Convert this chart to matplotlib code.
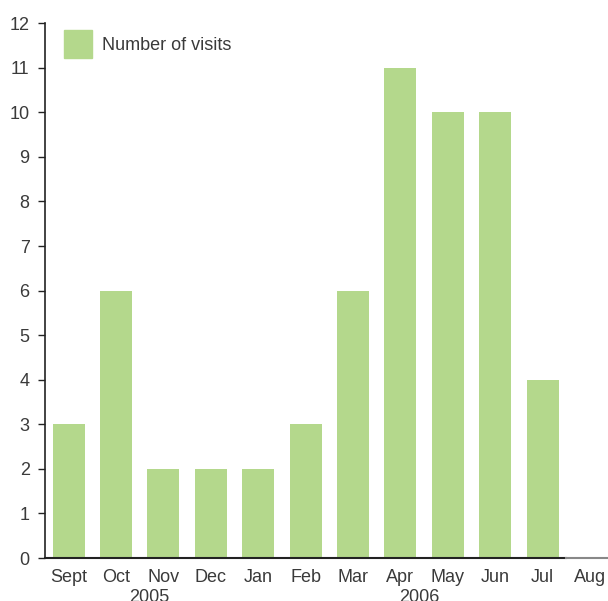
import matplotlib
matplotlib.use("Agg")
import matplotlib.pyplot as plt
from matplotlib.patches import Patch

months = ["Sept", "Oct", "Nov", "Dec", "Jan", "Feb", "Mar", "Apr", "May", "Jun", "Jul", "Aug"]
visits = [3, 6, 2, 2, 2, 3, 6, 11, 10, 10, 4, 0]
years = ["2005", "2006"]
year_pos = [1.7, 7.4]
yticks = list(range(0, 13))

plt.rcParams['font.family'] = ['Liberation Sans', 'DejaVu Sans']
bar_color = "#b4d88c"
text_color = "#3a3a3a"
fs = 13

fig = plt.figure(figsize=(6.08, 6.01), dpi=100)
ax = fig.add_axes([0.074, 0.0715, 0.926, 0.890])

x = list(range(len(months)))
ax.bar(x, visits, width=0.675, color=bar_color, zorder=2)

ax.set_xlim(-0.5, 11.38)
ax.set_ylim(0, 12)
ax.set_yticks(yticks)
ax.set_yticklabels([str(t) for t in yticks], fontsize=fs, color=text_color)
ax.tick_params(axis='y', length=5, width=1, color="#222222", pad=6)
ax.set_xticks(x)
ax.set_xticklabels(months, fontsize=fs, color=text_color)
ax.tick_params(axis='x', length=0, pad=8)

for s in ["top", "right", "bottom"]:
    ax.spines[s].set_visible(False)
ax.spines["left"].set_color("#222222")
ax.spines["left"].set_linewidth(1.2)

ax.plot([-0.5, 10.5], [0, 0], color="#222222", lw=1.5, clip_on=False, zorder=3)
ax.plot([10.5, 11.38], [0, 0], color="#888888", lw=1.5, clip_on=False, zorder=3)

for yl, yp in zip(years, year_pos):
    ax.text(yp, -0.69, yl, ha='center', va='top', fontsize=fs, color=text_color)

leg = ax.legend(handles=[Patch(color=bar_color, label="Number of visits")],
                loc='upper left', bbox_to_anchor=(0.021, 1.0), frameon=False,
                fontsize=fs, handlelength=1.55, handleheight=2.0, handletextpad=0.55,
                borderaxespad=0.0, borderpad=0.4)
for t in leg.get_texts():
    t.set_color(text_color)

fig.savefig("out.png", dpi=100)
